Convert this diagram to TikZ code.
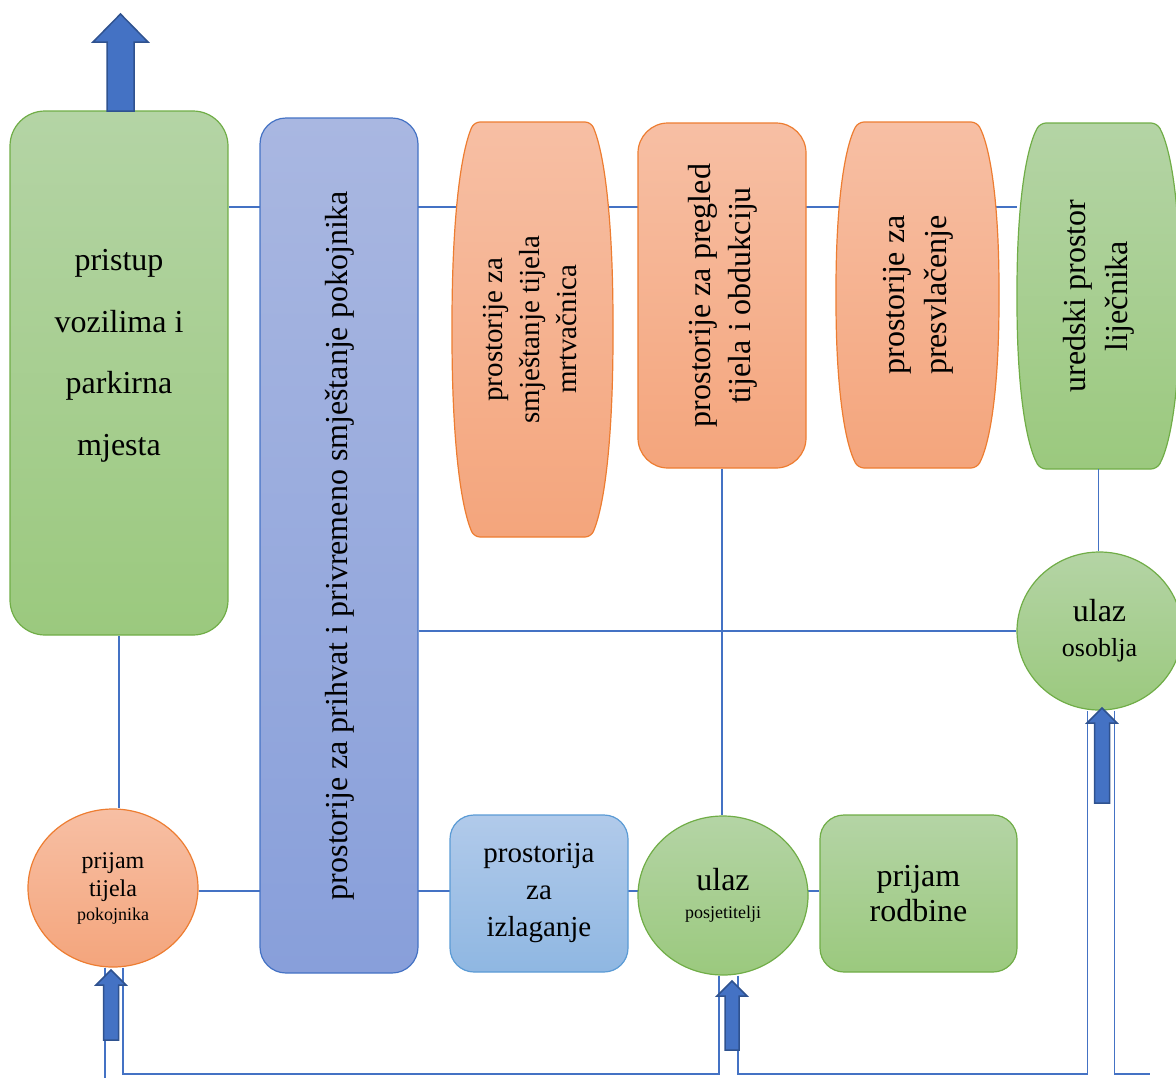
\documentclass[tikz,border=0pt]{standalone}
\usepackage{fontspec}
\setmainfont{Liberation Serif}
\usetikzlibrary{shapes.geometric}
\definecolor{lineblue}{HTML}{4472C4}
\definecolor{arrowfill}{HTML}{4472C4}
\definecolor{arrowdraw}{HTML}{2F528F}
\definecolor{gtop}{HTML}{B4D4A5}
\definecolor{gbot}{HTML}{9BC97E}
\definecolor{gline}{HTML}{70AD47}
\definecolor{otop}{HTML}{F7BFA4}
\definecolor{obot}{HTML}{F4A57C}
\definecolor{oline}{HTML}{ED7D31}
\definecolor{btop}{HTML}{A9B7E1}
\definecolor{bbot}{HTML}{889FDA}
\definecolor{bline}{HTML}{4472C4}
\definecolor{ltop}{HTML}{B1CAEA}
\definecolor{lbot}{HTML}{8FB7E2}
\definecolor{lline}{HTML}{5B9BD5}
\pgfdeclarelayer{bg}
\pgfsetlayers{bg,main}
\newcommand\barrelshape[6]{%
  \path[#6, rounded corners=6pt] (0.5*#1+0.5*#3,#2) -- (#3-#5,#2)
    .. controls (#3-0.35*#5,#2+0.08*#4-0.08*#2) and (#3,#2+0.25*#4-0.25*#2) .. (#3,0.5*#2+0.5*#4)
    .. controls (#3,#4-0.25*#4+0.25*#2) and (#3-0.35*#5,#4-0.08*#4+0.08*#2) .. (#3-#5,#4)
    -- (#1+#5,#4)
    .. controls (#1+0.35*#5,#4-0.08*#4+0.08*#2) and (#1,#4-0.25*#4+0.25*#2) .. (#1,0.5*#2+0.5*#4)
    .. controls (#1,#2+0.25*#4-0.25*#2) and (#1+0.35*#5,#2+0.08*#4-0.08*#2) .. (#1+#5,#2) -- cycle;}
\newcommand\uparr[6]{%
  \path[blockarrow] (#1,#2) -- (#1+#5,#3) -- (#1+#6,#3) -- (#1+#6,#4)
    -- (#1-#6,#4) -- (#1-#6,#3) -- (#1-#5,#3) -- cycle;}
\newcommand\vtext[3]{\rotatebox{90}{\fontsize{#1}{#2}\selectfont\begin{tabular}{@{}c@{}}#3\end{tabular}}}
\tikzset{
  conn/.style={draw=lineblue, line width=1.2pt},
  blockarrow/.style={fill=arrowfill, draw=arrowdraw, line width=1.5pt, line join=miter},
  greenfill/.style={top color=gtop, bottom color=gbot, draw=gline, line width=1.2pt},
  orangefill/.style={top color=otop, bottom color=obot, draw=oline, line width=1.2pt},
  bluefill/.style={top color=btop, bottom color=bbot, draw=bline, line width=1.2pt},
  lightfill/.style={top color=ltop, bottom color=lbot, draw=lline, line width=1.2pt},
  rbox/.style={rectangle, inner sep=0pt, align=center, text=black},
  oval/.style={ellipse, inner sep=0pt, align=center, text=black},
}
\begin{document}
\begin{tikzpicture}[x=1pt,y=-1pt]
\useasboundingbox (0,0) rectangle (1176,1077);
% barrel shapes
\barrelshape{452}{122}{613}{537}{22}{orangefill}
\barrelshape{836}{122}{999}{468}{22}{orangefill}
\barrelshape{1017}{123}{1180}{469}{23}{greenfill}
% nodes
\node[rbox, greenfill, rounded corners=35pt, minimum width=218pt, minimum height=524pt] (pristup) at (119,373) {};
\node[rbox, font=\fontsize{32}{61.5}\selectfont] (pristuptxt) at ([yshift=17pt]pristup.center) {pristup\\vozilima i\\parkirna\\mjesta};
\node[rbox, bluefill, rounded corners=26pt, minimum width=158pt, minimum height=855pt] (prihvat) at (339,545.5)
  {\vtext{32}{40}{prostorije za prihvat i privremeno smještanje pokojnika}};
\node[rbox, minimum width=161pt, minimum height=415pt] (smj) at (532.5,329.5)
  {\vtext{29}{37}{prostorije za\\smještanje tijela\\mrtvačnica}};
\node[rbox, orangefill, rounded corners=30pt, minimum width=168pt, minimum height=345pt] (preg) at (722,295.5)
  {\vtext{32}{40}{prostorije za pregled\\tijela i obdukciju}};
\node[rbox, minimum width=163pt, minimum height=346pt] (presv) at (917.5,295)
  {\vtext{32}{42}{prostorije za\\presvlačenje}};
\node[rbox, minimum width=163pt, minimum height=346pt] (ured) at (1098.5,296)
  {\vtext{32}{42}{uredski prostor\\liječnika}};
\node[oval, greenfill, minimum width=165pt, minimum height=158pt, font=\fontsize{26}{35}\selectfont] (osob) at (1099.5,631)
  {{\fontsize{32}{35}\selectfont ulaz}\\osoblja};
\node[oval, orangefill, minimum width=170pt, minimum height=158pt, font=\fontsize{24}{28}\selectfont] (prijamT) at (113,888)
  {prijam\\tijela\\[-4pt]{\fontsize{18}{28}\selectfont pokojnika}};
\node[rbox, lightfill, rounded corners=24pt, minimum width=178pt, minimum height=157pt, font=\fontsize{29}{37}\selectfont] (izl) at (539,893.5)
  {prostorija\\za\\izlaganje};
\node[oval, greenfill, minimum width=170pt, minimum height=159pt, font=\fontsize{18}{28}\selectfont] (posj) at (723,895.5)
  {{\fontsize{32}{28}\selectfont ulaz}\\posjetitelji};
\node[rbox, greenfill, rounded corners=24pt, minimum width=197pt, minimum height=157pt, font=\fontsize{32}{35}\selectfont] (rodb) at (918.5,893.5)
  {prijam\\rodbine};
% connectors
\coordinate (h1) at (0,207);
\coordinate (h3) at (0,891);
\coordinate (hb) at (0,1074);
\coordinate (hend) at (1150,1074);
\coordinate (hout) at (0,1090);
\begin{pgfonlayer}{bg}
\draw[conn] (pristup.east |- h1) -- (ured.west |- h1);
\draw[conn] (prijamT.east |- h3) -- (rodb.west |- h3);
\end{pgfonlayer}
\draw[conn] (pristup.south) -- (pristup.south |- prijamT.north);
\draw[conn] (preg.south) -- (preg.south |- posj.north);
\draw[conn] (ured.south) -- (ured.south |- osob.north);
\draw[conn] (prihvat.east |- osob.west) -- (osob.west);
\draw[conn] ([xshift=-8pt]prijamT.south) -- ([xshift=-8pt]prijamT.south |- hout);
\draw[conn] ([xshift=10pt]prijamT.south) -- ([xshift=10pt]prijamT.south |- hb)
  -- ([xshift=-4pt]posj.south |- hb) -- ([xshift=-4pt]posj.south);
\draw[conn] ([xshift=15pt]posj.south) -- ([xshift=15pt]posj.south |- hb)
  -- ([xshift=-12pt]osob.south |- hb) -- ([xshift=-12pt]osob.south);
\draw[conn] ([xshift=15pt]osob.south) -- ([xshift=15pt]osob.south |- hb) -- (hend);
% block arrows
\uparr{120.5}{14}{42}{111}{27.5}{13.5}
\uparr{111}{970}{985}{1040}{15}{7.5}
\uparr{732}{981}{996}{1050}{15}{7}
\uparr{1102}{708}{723}{803}{15}{7.5}
\end{tikzpicture}
\end{document}
